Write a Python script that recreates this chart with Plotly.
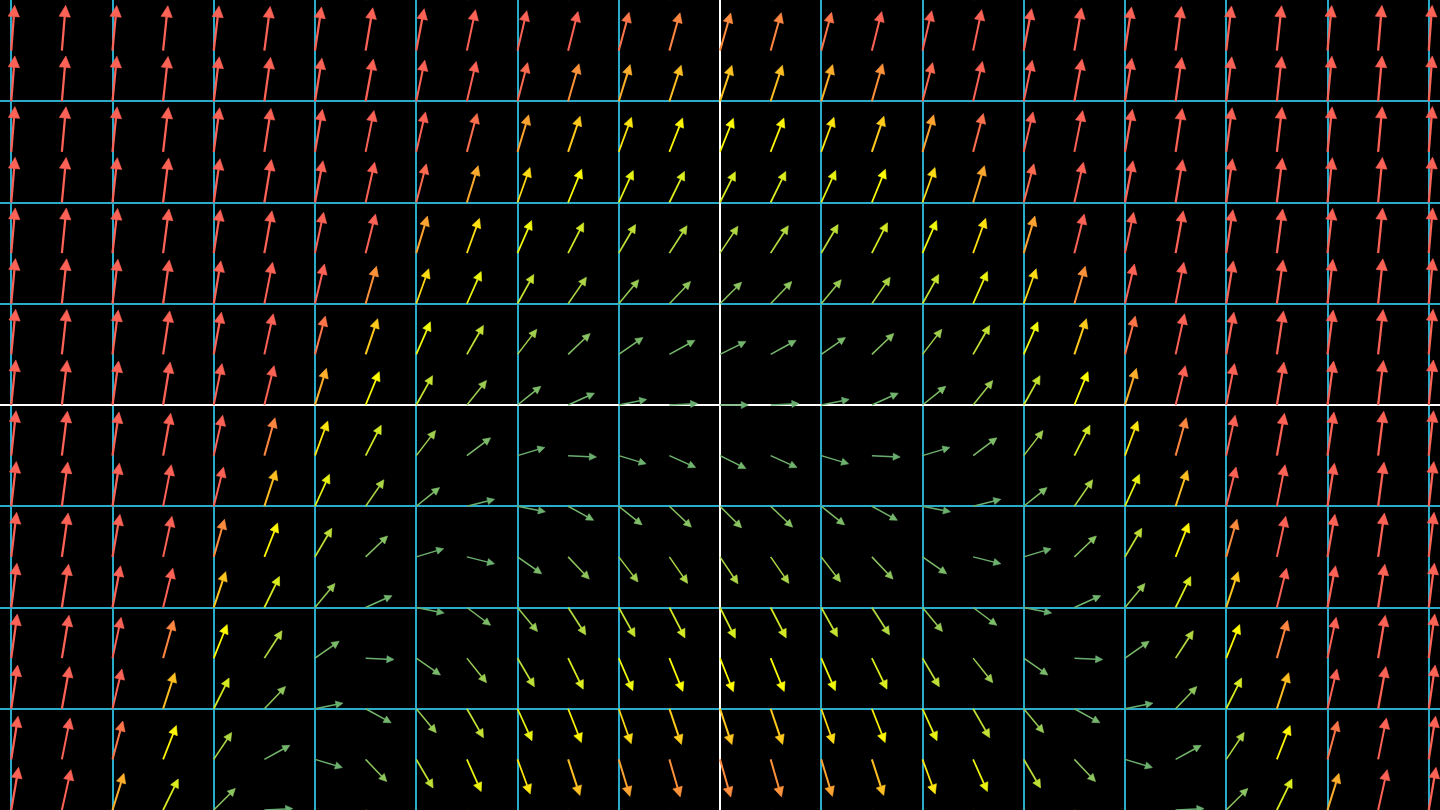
import math
import plotly.graph_objects as go

# sample points of the arrow grid (plane units, half-unit spacing)
x_cols = [-7.0, -6.5, -6.0, -5.5, -5.0, -4.5, -4.0, -3.5, -3.0, -2.5, -2.0, -1.5, -1.0, -0.5, 0.0,
          0.5, 1.0, 1.5, 2.0, 2.5, 3.0, 3.5, 4.0, 4.5, 5.0, 5.5, 6.0, 6.5, 7.0]
y_rows = [4.0, 3.5, 3.0, 2.5, 2.0, 1.5, 1.0, 0.5, 0.0,
          -0.5, -1.0, -1.5, -2.0, -2.5, -3.0, -3.5, -4.0]

lift = [9.8, 8.45, 7.2, 6.05, 5.0, 4.05, 3.2, 2.45, 1.8, 1.25, 0.8, 0.45, 0.2, 0.05, 0.0,
        0.05, 0.2, 0.45, 0.8, 1.25, 1.8, 2.45, 3.2, 4.05, 5.0, 6.05, 7.2, 8.45, 9.8]
run = 1.0           # horizontal component before scaling
field_scale = 0.5

# magnitude colour scheme
color_stops = ["#1C758A", "#83C167", "#FFFF00", "#FC6255"]
color_min, color_max = 0.0, 2.0

PX_PER_UNIT = 1440 / (14 + 2 / 9)


def hex_rgb(h):
    h = h.lstrip("#")
    return [int(h[i:i + 2], 16) for i in (0, 2, 4)]


stop_rgbs = [hex_rgb(c) for c in color_stops]


def magnitude_color(n):
    a = (n - color_min) / (color_max - color_min)
    a = min(max(a, 0.0), 1.0) * (len(stop_rgbs) - 1)
    i = min(int(a), len(stop_rgbs) - 1)
    j = min(i + 1, len(stop_rgbs) - 1)
    t = a - int(a)
    rgb = [round(stop_rgbs[i][k] * (1 - t) + stop_rgbs[j][k] * t) for k in range(3)]
    return "#%02X%02X%02X" % tuple(rgb)


groups = {}
for y in y_rows:
    for x, lf in zip(x_cols, lift):
        vx = field_scale * run
        vy = field_scale * (y + lf)
        n = math.hypot(vx, vy)
        length = 0.45 / (1 + math.exp(-n))
        ux, uy = vx / n, vy / n
        tip = min(0.35, 0.25 * length)
        width_px = round(min(6.0, 5 * length) * 0.01 * PX_PER_UNIT * 4) / 4

        ax_, ay_ = x + length * ux, y + length * uy
        bx, by = ax_ - tip * ux, ay_ - tip * uy
        px_, py_ = -uy * tip / 2, ux * tip / 2

        key = (magnitude_color(n), width_px)
        g = groups.setdefault(key, {"sx": [], "sy": [], "hx": [], "hy": []})
        g["sx"] += [x, bx + 0.002 * ux, None]
        g["sy"] += [y, by + 0.002 * uy, None]
        g["hx"] += [ax_, bx + px_, bx - px_, ax_, None]
        g["hy"] += [ay_, by + py_, by - py_, ay_, None]

fig = go.Figure()
for (color, w), g in groups.items():
    fig.add_trace(go.Scatter(x=g["sx"], y=g["sy"], mode="lines",
                             line=dict(color=color, width=w),
                             hoverinfo="skip", showlegend=False))
    fig.add_trace(go.Scatter(x=g["hx"], y=g["hy"], mode="lines", fill="toself",
                             fillcolor=color, line=dict(color=color, width=0.6),
                             hoverinfo="skip", showlegend=False))

axis_style = dict(showgrid=True, dtick=1, tick0=0, gridcolor="#29ABCA", gridwidth=2,
                  zeroline=True, zerolinecolor="#FFFFFF", zerolinewidth=2,
                  showticklabels=False, ticks="", showline=False, fixedrange=True)

fig.update_layout(
    width=1440, height=810, autosize=False,
    margin=dict(l=0, r=0, t=0, b=0, pad=0),
    paper_bgcolor="#000000", plot_bgcolor="#000000",
    showlegend=False,
    xaxis=dict(range=[-(7 + 1 / 9), 7 + 1 / 9], **axis_style),
    yaxis=dict(range=[-4, 4], **axis_style),
)

# drop the page's default body margin so the frame sits flush in the window
fig.write_html("out.html", config={"displayModeBar": False},
               post_script="document.body.style.margin='0';"
                           "document.body.style.overflow='hidden';"
                           "document.body.style.background='#000';")
